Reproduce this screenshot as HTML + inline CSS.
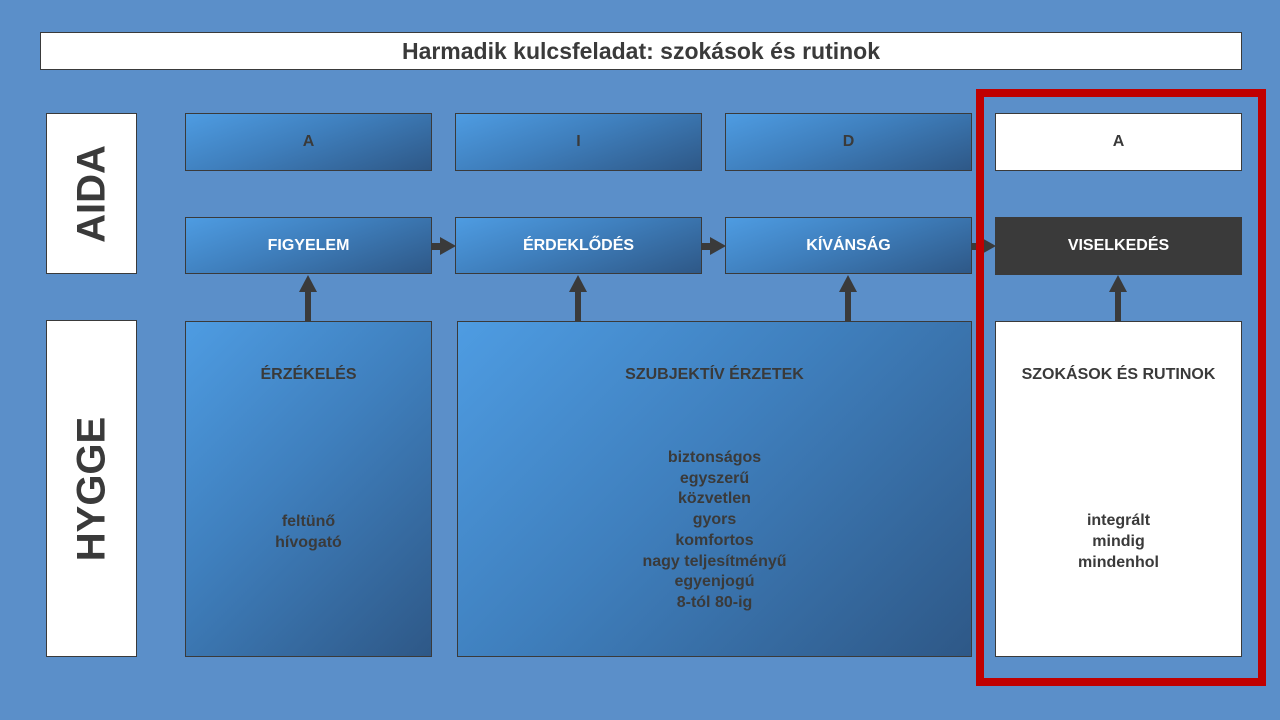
<!DOCTYPE html><html><head><meta charset="utf-8"><style>
body{margin:0;width:1280px;height:720px;background:#5b8fc9;position:relative;overflow:hidden;font-family:"Liberation Sans",sans-serif;font-weight:bold;color:#3a3a3a}
.b{position:absolute;box-sizing:border-box;border:1px solid #3a3a3a;text-align:center}
.g{background:linear-gradient(160deg,#4e9ce2 0%,#3f7fbd 45%,#2e5887 100%)}
.g2{background:linear-gradient(135deg,#4e9ce2 0%,#3f7fbd 45%,#2e5887 100%)}
.w{background:#fff}
.c{display:flex;align-items:center;justify-content:center}
.t{font-size:16px}
.wt{color:#fff;font-size:16px}
</style></head><body>
<div class="b w c" style="left:40px;top:32px;width:1202px;height:38px;font-size:23px;">Harmadik kulcsfeladat: szokások és rutinok</div>
<div class="b w" style="left:46px;top:113px;width:91px;height:161px;"><div style="position:absolute;left:45px;top:80px;transform:translate(-50%,-50%) rotate(-90deg);font-size:40px;white-space:nowrap">AIDA</div></div>
<div class="b w" style="left:46px;top:320px;width:91px;height:337px;"><div style="position:absolute;left:45px;top:168px;transform:translate(-50%,-50%) rotate(-90deg);font-size:40px;white-space:nowrap">HYGGE</div></div>
<div class="b g c t" style="left:185px;top:113px;width:247px;height:58px">A</div>
<div class="b g c t" style="left:455px;top:113px;width:247px;height:58px">I</div>
<div class="b g c t" style="left:725px;top:113px;width:247px;height:58px">D</div>
<div class="b w c t" style="left:995px;top:113px;width:247px;height:58px">A</div>
<div class="b g c wt" style="left:185px;top:217px;width:247px;height:57px">FIGYELEM</div>
<div class="b g c wt" style="left:455px;top:217px;width:247px;height:57px">ÉRDEKLŐDÉS</div>
<div class="b g c wt" style="left:725px;top:217px;width:247px;height:57px">KÍVÁNSÁG</div>
<div class="b c wt" style="left:995px;top:217px;width:247px;height:58px;background:#3a3a3a">VISELKEDÉS</div>
<div class="b g2 t" style="left:185px;top:321px;width:247px;height:336px"><div style="position:absolute;top:44px;width:100%">ÉRZÉKELÉS</div><div style="position:absolute;top:189px;width:100%;line-height:21px">feltünő<br>hívogató</div></div>
<div class="b g2 t" style="left:457px;top:321px;width:515px;height:336px"><div style="position:absolute;top:44px;width:100%">SZUBJEKTÍV ÉRZETEK</div><div style="position:absolute;top:126px;width:100%;line-height:20.7px">biztonságos<br>egyszerű<br>közvetlen<br>gyors<br>komfortos<br>nagy teljesítményű<br>egyenjogú<br>8-tól 80-ig</div></div>
<div class="b w t" style="left:995px;top:321px;width:247px;height:336px"><div style="position:absolute;top:44px;width:100%">SZOKÁSOK ÉS RUTINOK</div><div style="position:absolute;top:188px;width:100%;line-height:21px">integrált<br>mindig<br>mindenhol</div></div>
<svg style="position:absolute;left:0;top:0" width="1280" height="720">
<g fill="#3a3a3a">
<rect x="432" y="243" width="10" height="7"/><polygon points="440,237 456,246 440,255"/>
<rect x="702" y="243" width="10" height="7"/><polygon points="710,237 726,246 710,255"/>
<rect x="972" y="243" width="10" height="7"/><polygon points="980,237 996,246 980,255"/>
<rect x="305" y="290" width="6" height="31"/><polygon points="299,292 308,275 317,292"/>
<rect x="575" y="290" width="6" height="31"/><polygon points="569,292 578,275 587,292"/>
<rect x="845" y="290" width="6" height="31"/><polygon points="839,292 848,275 857,292"/>
<rect x="1115" y="290" width="6" height="31"/><polygon points="1109,292 1118,275 1127,292"/>
</g>
<rect x="980" y="93" width="282" height="589" fill="none" stroke="#c00000" stroke-width="8"/>
</svg>
</body></html>
